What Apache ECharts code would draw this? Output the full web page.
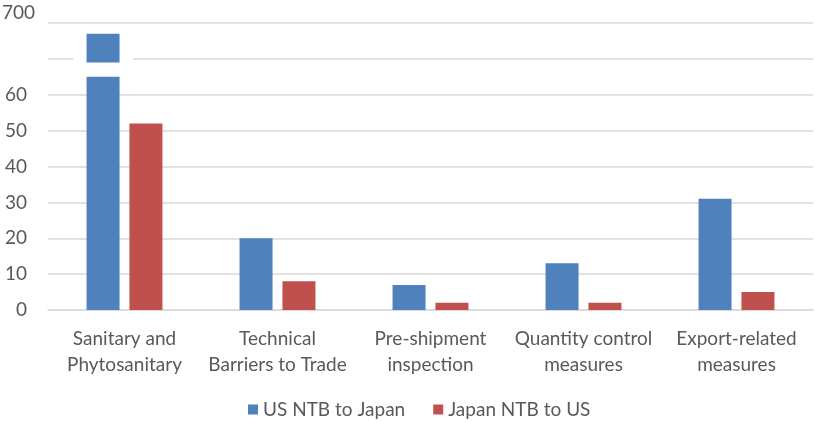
<!DOCTYPE html>
<html>
<head>
<meta charset="utf-8">
<script src="https://cdn.jsdelivr.net/npm/echarts@6/dist/echarts.min.js"></script>
<style>
  html, body { margin: 0; padding: 0; background: #ffffff; }
  #chart { width: 815px; height: 423px; }
</style>
</head>
<body>
<div id="chart"></div>
<script>
// Non-tariff barriers by type
const categories = [
  'Sanitary and\nPhytosanitary',
  'Technical\nBarriers to Trade',
  'Pre-shipment\ninspection',
  'Quantity control\nmeasures',
  'Export-related\nmeasures'
];
const usToJapan = [697, 20, 7, 13, 31];
const japanToUs = [52, 8, 2, 2, 5];
const seriesNames = ['US NTB to Japan', 'Japan NTB to US'];

// Value-axis ticks; the axis is broken between 65 and 689
const yTickValues = [0, 10, 20, 30, 40, 50, 60, 690, 700];
const yTickLabels = ['0', '10', '20', '30', '40', '50', '60', '', '700'];
const breakStart = 65;
const breakEnd = 689;
const breakGap = 4;

// Map a data value onto the compressed (broken) scale and back
function toScale(v) {
  if (v <= breakStart) return v;
  if (v >= breakEnd) return v - breakEnd + breakStart + breakGap;
  return breakStart + (v - breakStart) / (breakEnd - breakStart) * breakGap;
}
function fromScale(s) {
  if (s <= breakStart) return s;
  if (s >= breakStart + breakGap) return s - breakStart - breakGap + breakEnd;
  return breakStart + (s - breakStart) / breakGap * (breakEnd - breakStart);
}

const TEXT = '#595959';
const GRID = '#d9d9d9';
const FONT = 'Lato';
const BAR_W = 33;
const BAR_GAP = 0.3;
// horizontal offset from category centre to the first series' bar centre
const firstBarShift = (BAR_W + BAR_W * BAR_GAP) / 2;

const brokenIdx = usToJapan
  .map((v, i) => (v >= breakEnd ? i : -1))
  .filter(i => i >= 0);

const chart = echarts.init(document.getElementById('chart'), null, { renderer: 'canvas' });

chart.setOption({
  animation: false,
  color: ['#4f81bd', '#c0504d'],
  textStyle: { fontFamily: FONT },
  grid: { left: 48, right: 2, top: 23, bottom: 113, outerBoundsMode: 'none' },
  legend: {
    data: seriesNames,
    left: 248,
    top: 400,
    padding: 0,
    icon: 'rect',
    itemWidth: 10,
    itemHeight: 10,
    itemGap: 28,
    textStyle: { color: TEXT, fontSize: 19, fontFamily: FONT }
  },
  xAxis: {
    type: 'category',
    data: categories,
    axisTick: { show: false },
    axisLine: { lineStyle: { color: GRID, width: 1.5 } },
    axisLabel: {
      color: TEXT, fontSize: 19, fontFamily: FONT, lineHeight: 26,
      margin: 16, interval: 0
    }
  },
  yAxis: {
    type: 'value',
    min: 0,
    max: toScale(700),
    interval: 10,
    axisLine: { show: false },
    axisTick: { show: false },
    splitLine: { lineStyle: { color: GRID, width: 1.5 } },
    axisLabel: {
      color: TEXT, fontSize: 19, fontFamily: FONT, margin: 13,
      formatter: function (s) {
        const v = Math.round(fromScale(s));
        const k = yTickValues.indexOf(v);
        const txt = k >= 0 ? yTickLabels[k] : '';
        if (txt === '') return '';
        return v > breakEnd ? '{top|' + txt + '}' : '{n|' + txt + '}';
      },
      rich: {
        n: { color: TEXT, fontSize: 19, fontFamily: FONT, padding: [0, 8, 0, 0] },
        top: { color: TEXT, fontSize: 19, fontFamily: FONT, padding: [0, 0, 20, 0] }
      }
    }
  },
  series: [
    {
      name: seriesNames[0],
      type: 'bar',
      barWidth: BAR_W,
      barGap: (BAR_GAP * 100) + '%',
      z: 2,
      data: usToJapan.map(toScale)
    },
    {
      name: seriesNames[1],
      type: 'bar',
      barWidth: BAR_W,
      z: 2,
      data: japanToUs.map(toScale)
    },
    {
      // clears the grid line just above the break, behind the bar
      name: 'lineMask',
      type: 'custom',
      silent: true,
      z: 1,
      data: brokenIdx.map(i => [i, toScale(690)]),
      renderItem: function (params, api) {
        const p = api.coord([api.value(0), api.value(1)]);
        const cx = p[0] - firstBarShift;
        return {
          type: 'rect',
          shape: { x: cx - 30, y: p[1] - 3, width: 60, height: 6 },
          style: { fill: '#ffffff' }
        };
      }
    },
    {
      // white band cutting the tall bar at the axis break
      name: 'barMask',
      type: 'custom',
      silent: true,
      z: 3,
      data: brokenIdx.map(i => [i, breakStart, breakStart + breakGap]),
      renderItem: function (params, api) {
        const lo = api.coord([api.value(0), api.value(1)]);
        const hi = api.coord([api.value(0), api.value(2)]);
        const cx = lo[0] - firstBarShift;
        return {
          type: 'rect',
          shape: { x: cx - BAR_W / 2 - 2, y: hi[1], width: BAR_W + 4, height: lo[1] - hi[1] },
          style: { fill: '#ffffff' }
        };
      }
    }
  ]
});
</script>
</body>
</html>
